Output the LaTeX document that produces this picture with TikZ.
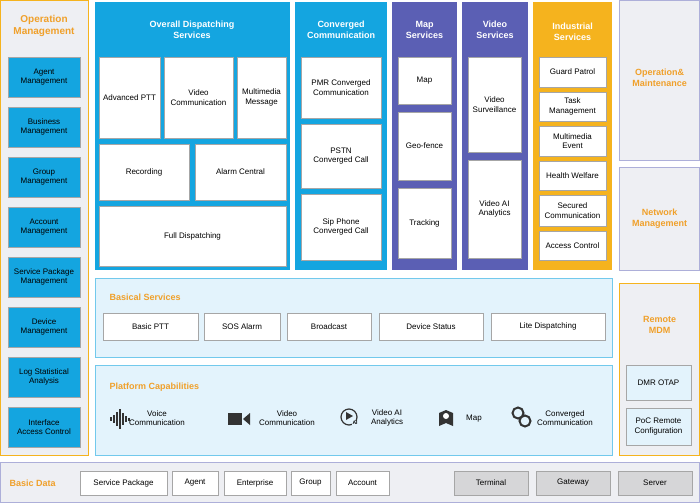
\documentclass[tikz,border=0pt]{standalone}
\usepackage{fontspec}
\setmainfont{Liberation Sans}
\begin{document}
\definecolor{cblue}{HTML}{14A5E0}
\definecolor{cind}{HTML}{5B5FB4}
\definecolor{corg}{HTML}{F5B31E}
\definecolor{tor}{HTML}{F0A02A}
\definecolor{pbg}{HTML}{EEEFF3}
\definecolor{lbl}{HTML}{E3F3FC}
\definecolor{gbx}{HTML}{D6D6D8}
\begin{tikzpicture}[x=1pt,y=-1pt,
 panel/.style={draw=#1,line width=0.8pt,fill=pbg},
 box/.style={draw=gray!70,fill=white,align=center,font=\fontsize{8}{9.5}\selectfont,inner sep=1pt},
 bbtn/.style={draw=gray!70,fill=cblue,align=center,font=\fontsize{8}{9.5}\selectfont,inner sep=1pt},
 wt/.style={white,font=\bfseries\fontsize{9}{11}\selectfont,align=center},
 ot/.style={tor,font=\bfseries\fontsize{9}{11}\selectfont,align=center},
 lab/.style={font=\fontsize{8}{9.5}\selectfont,align=center}]
\useasboundingbox (0,0) rectangle (700,503);
\fill[white] (0,0) rectangle (700,503);
\def\R#1#2#3#4#5#6{\node[#6,minimum width=#3-#1,minimum height=#4-#2] (#5) at ({(#1+#3)/2},{(#2+#4)/2}) {};}
% left panel
\draw[panel=corg] (0.5,0.5) rectangle (88,455);
\node[ot,font=\bfseries\fontsize{10}{12}\selectfont] (om) at (44,26) {Operation\\Management};
\foreach \y/\t [count=\i] in {57/Agent\\Management,107/Business\\Management,157/Group\\Management,207/Account\\Management,257/Service Package\\Management,307/Device\\Management,357/Log Statistical\\Analysis,407/Interface\\Access Control}
 {\node[bbtn,minimum width=72,minimum height=40] (l\i) at (44,\y+20) {\t};}
% columns
\fill[cblue] (95,2) rectangle (290,270);
\node[wt] (odt) at (192,30) {Overall Dispatching\\Services};
\node[box,minimum width=61,minimum height=81] (ap) at (129.5,97.5) {Advanced PTT};
\node[box,minimum width=69,minimum height=81] (vc) at (198.5,97.5) {Video\\Communication};
\node[box,minimum width=49,minimum height=81] (mm) at (261.5,97.5) {Multimedia\\Message};
\node[box,minimum width=90,minimum height=56] (rec) at (144,172) {Recording};
\node[box,minimum width=91,minimum height=56] (alc) at (240.5,172) {Alarm Central};
\node[box,minimum width=187,minimum height=60] (fd) at (192.5,236) {Full Dispatching};
\fill[cblue] (295,2) rectangle (387,270);
\node[wt] (cct) at (341,30) {Converged\\Communication};
\node[box,minimum width=80,minimum height=61] (c1) at (341,87.5) {PMR Converged\\Communication};
\node[box,minimum width=80,minimum height=64] (c2) at (341,156) {PSTN\\Converged Call};
\node[box,minimum width=80,minimum height=66] (c3) at (341,227) {Sip Phone\\Converged Call};
\fill[cind] (392,2) rectangle (457,270);
\node[wt] (mst) at (424.5,30) {Map\\Services};
\node[box,minimum width=53,minimum height=47] (m1) at (424.5,80.5) {Map};
\node[box,minimum width=53,minimum height=68] (m2) at (424.5,146) {Geo-fence};
\node[box,minimum width=53,minimum height=70] (m3) at (424.5,223) {Tracking};
\fill[cind] (462,2) rectangle (528,270);
\node[wt] (vst) at (495,30) {Video\\Services};
\node[box,minimum width=53,minimum height=95] (v1) at (494.5,104.5) {Video\\Surveillance};
\node[box,minimum width=53,minimum height=98] (v2) at (494.5,209) {Video AI\\Analytics};
\fill[corg] (533,2) rectangle (612,270);
\node[wt] (ist) at (572.5,32) {Industrial\\Services};
\foreach \a/\b/\t [count=\i] in {57/87/Guard Patrol,92/121/Task\\Management,126/156/Multimedia\\Event,161/190/Health Welfare,195/226/Secured\\Communication,231/260/Access Control}
 {\node[box,minimum width=67,minimum height=\b-\a] (i\i) at (572.5,{(\a+\b)/2}) {\t};}
% right panels
\draw[panel=cind!50] (619,0.5) rectangle (699.5,160);
\node[ot] (omt) at (659.5,78) {Operation\&\\Maintenance};
\draw[panel=cind!50] (619,167) rectangle (699.5,270);
\node[ot] (nmt) at (659.5,219) {Network\\Management};
\draw[panel=corg] (619,283) rectangle (699.5,455);
\node[ot] (rmt) at (659.5,325) {Remote\\MDM};
\node[box,fill=lbl,minimum width=65,minimum height=35] (dmr) at (658.5,382.5) {DMR OTAP};
\node[box,fill=lbl,minimum width=65,minimum height=37] (poc) at (658.5,426.5) {PoC Remote\\Configuration};
% basical
\draw[draw=cblue!60,line width=0.8pt,fill=lbl] (95,278) rectangle (612,357);
\node[ot,anchor=west] (bst) at (106,297) {Basical Services};
\foreach \a/\b/\t [count=\i] in {103/198/Basic PTT,204/280/SOS Alarm,287/371/Broadcast,379/483/Device Status,491/605/Lite Dispatching}
 {\node[box,minimum width=\b-\a,minimum height=27] (b\i) at ({(\a+\b)/2},326.5) {\t};}
% platform
\draw[draw=cblue!60,line width=0.8pt,fill=lbl] (95,365) rectangle (612,455);
\node[ot,anchor=west] (pct) at (106,387) {Platform Capabilities};
% icons
\foreach \x/\h in {111/4,114/8,117/14,120/20,123/12,126/6,129/3} \draw[line width=1.1pt,black!80] (\x,{419-\h/2}) -- (\x,{419+\h/2});
\node[lab] (pv) at (157,418) {Voice\\Communication};
\fill[black!80] (228,413) rectangle (242,425);
\fill[black!80] (243,419) -- (250,413) -- (250,425) -- cycle;
\node[lab] (pvc) at (287,418) {Video\\Communication};
\draw[line width=1.2pt,black!80] (349,417) circle (8);
\fill[black!80] (346,412) -- (353,416) -- (346,420) -- cycle;
\node[font=\bfseries\fontsize{5}{5}\selectfont,fill=lbl,inner sep=0.5pt] (aiic) at (355,423) {AI};
\node[lab] (pva) at (387,418) {Video AI\\Analytics};
\fill[black!80] (439,426) -- (439,413) -- (446,410) -- (453,413) -- (453,426) -- (446,423) -- cycle;
\fill[white] (446,416) circle (3);
\node[lab] (pm) at (474,419) {Map};
\draw[line width=2pt,black!80] (518,413) circle (5.5) (525,421) circle (5.5);
\node[lab] (pcc) at (565,418) {Converged\\Communication};
% basic data
\draw[draw=cind!50,line width=0.8pt,fill=pbg] (0.5,462) rectangle (699.5,502.5);
\node[ot,anchor=west] (bdt) at (6,483) {Basic Data};
\foreach \a/\b/\t/\c [count=\i] in {80/167/Service Package/white,172/218/Agent/white,224/286/Enterprise/white,291/330/Group/white,336/389/Account/white,454/528/Terminal/gbx,536/610/Gateway/gbx,618/692/Server/gbx}
 {\node[box,fill=\c,minimum width=\b-\a,minimum height=24] (d\i) at ({(\a+\b)/2},483) {\t};}
\end{tikzpicture}
\end{document}
